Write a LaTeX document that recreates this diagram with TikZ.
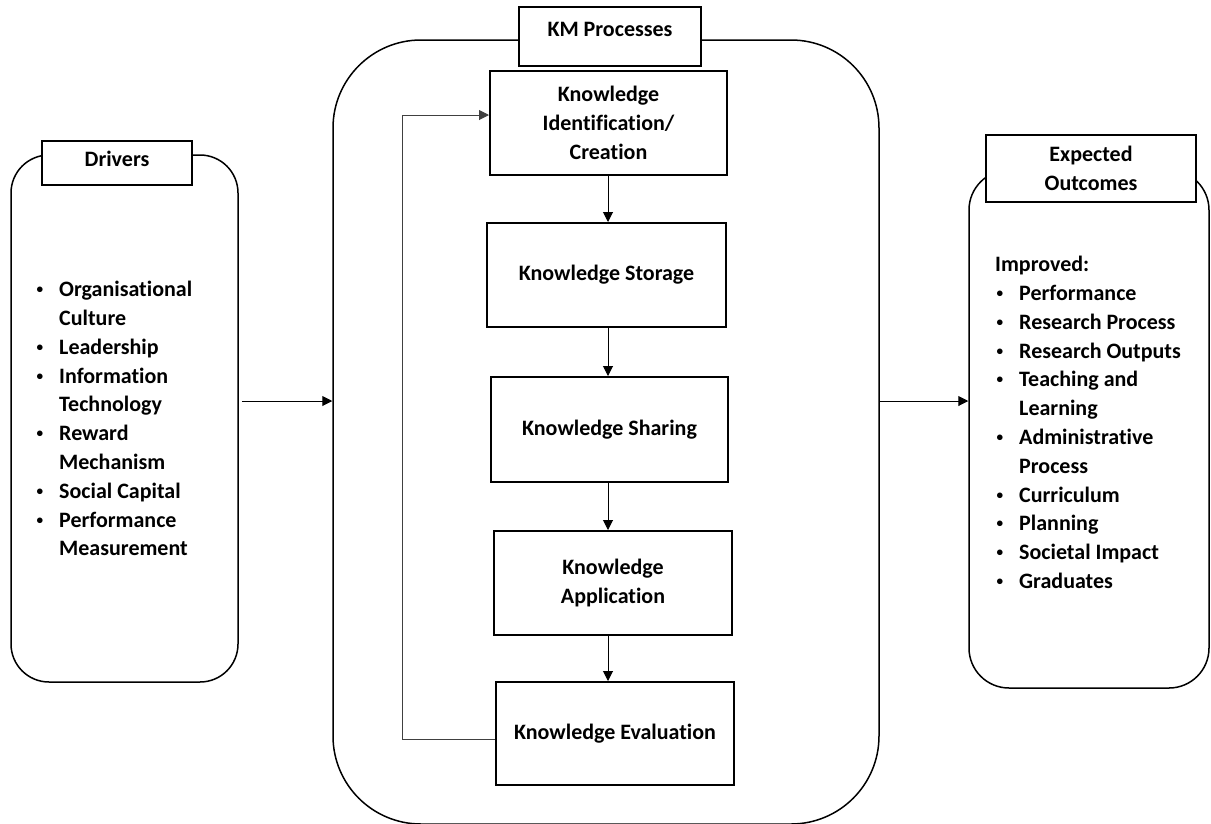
\documentclass[tikz,border=0pt]{standalone}
\usepackage{graphicx}
\usepackage{fontspec}
\setmainfont{Carlito}[Ligatures=NoCommon]
\usetikzlibrary{positioning, arrows.meta}

\newcommand{\bdot}{\hspace*{1.5pt}\raisebox{0.13em}{\scalebox{0.6}{\textbullet}}}
\newcommand{\bitem}[1]{\makebox[24pt][l]{\bdot}#1}
\newcommand{\bcont}[1]{\hspace*{24pt}#1}

\begin{document}
\begin{tikzpicture}[x=1pt, y=-1pt, >={Triangle[length=10pt,width=10pt]},
    txt/.style={font=\fontsize{22}{28.8}\selectfont\bfseries, inner sep=0pt},
    panel/.style={draw, line width=1.5pt, inner sep=0pt},
    titlebox/.style={draw, line width=2pt, fill=white, txt, align=center},
    stagebox/.style={draw, line width=2pt, txt, align=center},
    arr/.style={->, line width=1pt},
    loopline/.style={->, line width=1pt, black!75}]
    \useasboundingbox (0,0) rectangle (1211,823);

    % Rounded panels
    \node[panel, rounded corners=38pt, minimum width=227pt, minimum height=527pt] (drv) at (124.5,418.5) {};
    \node[panel, rounded corners=88pt, minimum width=546pt, minimum height=784pt] (km) at (606,432) {};
    \node[panel, rounded corners=40pt, minimum width=240pt, minimum height=518pt] (out) at (1089,429) {};

    % Panel titles
    \node[titlebox, anchor=north west, minimum width=150pt, text height=25pt, text depth=19pt] (drvt) at (41,140) {Drivers};
    \node[titlebox, anchor=north west, minimum width=182pt, text height=29pt, text depth=30pt] (kmt) at (518,6) {KM Processes};
    \node[titlebox, anchor=north west, minimum width=210pt, minimum height=67pt] (outt) at (985,134) {Expected\\Outcomes};

    % KM stages
    \node[stagebox, minimum width=237pt, minimum height=104pt] (kic) at (608.5,123) {Knowledge\\Identification/\\Creation};
    \node[stagebox, minimum width=239pt, minimum height=104pt] (stor) at (606.5,275) {Knowledge Storage};
    \node[stagebox, minimum width=237pt, minimum height=105pt] (share) at (609.5,429.5) {Knowledge Sharing};
    \node[stagebox, minimum width=238pt, minimum height=104pt] (app) at (613,583) {Knowledge\\Application};
    \node[stagebox, minimum width=238pt, minimum height=103pt] (eval) at (615,733.5) {Knowledge Evaluation};

    % Stage arrows
    \coordinate (spine) at (608,0);
    \draw[arr] (kic.south -| spine) -- (stor.north -| spine);
    \draw[arr] (stor.south -| spine) -- (share.north -| spine);
    \draw[arr] (share.south -| spine) -- (app.north -| spine);
    \draw[arr] (app.south -| spine) -- (eval.north -| spine);

    % Feedback loop
    \coordinate (back) at (402,739);
    \draw[loopline] (eval.west |- back) -- (back) |- ([yshift=8pt]kic.west);

    % Panel links
    \coordinate (mid) at (0,401);
    \draw[arr, shorten <=3pt] (drv.east |- mid) -- (km.west |- mid);
    \draw[arr] (km.east |- mid) -- (out.west |- mid);

    % Lists
    \node[txt, align=left, anchor=north west] (drvlist) at (35,281) {
        \bitem{Organisational}\\
        \bcont{Culture}\\
        \bitem{Leadership}\\
        \bitem{Information}\\
        \bcont{Technology}\\
        \bitem{Reward}\\
        \bcont{Mechanism}\\
        \bitem{Social Capital}\\
        \bitem{Performance}\\
        \bcont{Measurement}};
    \node[txt, align=left, anchor=north west] (outlist) at (995,256) {
        Improved:\\
        \bitem{Performance}\\
        \bitem{Research Process}\\
        \bitem{Research Outputs}\\
        \bitem{Teaching and}\\
        \bcont{Learning}\\
        \bitem{Administrative}\\
        \bcont{Process}\\
        \bitem{Curriculum}\\
        \bitem{Planning}\\
        \bitem{Societal Impact}\\
        \bitem{Graduates}};
\end{tikzpicture}
\end{document}
